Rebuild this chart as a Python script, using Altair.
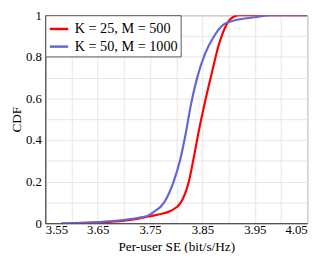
import altair as alt
import pandas as pd

series_names = ["K = 25, M = 500", "K = 50, M = 1000"]

red_x = [3.60, 3.65, 3.70, 3.728, 3.747, 3.766, 3.790, 3.809, 3.824, 3.833, 3.842, 3.855, 3.868, 3.880, 3.893, 3.905, 3.92, 3.95, 4.05]
red_y = [0.0, 0.004, 0.012, 0.022, 0.032, 0.042, 0.06, 0.10, 0.20, 0.31, 0.43, 0.585, 0.724, 0.847, 0.94, 0.985, 1.0, 1.0, 1.0]

blue_x = [3.58, 3.62, 3.654, 3.69, 3.728, 3.747, 3.756, 3.777, 3.795, 3.807, 3.818, 3.828, 3.840, 3.855, 3.871, 3.890, 3.914, 3.95, 3.98, 4.05]
blue_y = [0.0, 0.002, 0.006, 0.013, 0.026, 0.037, 0.052, 0.10, 0.20, 0.30, 0.43, 0.57, 0.70, 0.815, 0.894, 0.955, 0.977, 0.99, 1.0, 1.0]

x_ticks = [3.55, 3.60, 3.65, 3.70, 3.75, 3.80, 3.85, 3.90, 3.95, 4.00, 4.05]
y_ticks = [0, 0.1, 0.2, 0.3, 0.4, 0.5, 0.6, 0.7, 0.8, 0.9, 1.0]

rows = []
for i, (x, y) in enumerate(zip(red_x, red_y)):
    rows.append({"x": x, "y": y, "s": series_names[0], "o": i})
for i, (x, y) in enumerate(zip(blue_x, blue_y)):
    rows.append({"x": x, "y": y, "s": series_names[1], "o": i})
df = pd.DataFrame(rows)

font = "Liberation Serif"

chart = alt.Chart(df).mark_line(strokeWidth=2.2, interpolate="monotone", clip=True).encode(
    x=alt.X("x:Q", scale=alt.Scale(domain=[3.55, 4.05], nice=False, zero=False),
            axis=alt.Axis(values=x_ticks, title="Per-user SE (bit/s/Hz)",
                          labelExpr="round(datum.value*100) % 10 == 5 ? format(datum.value, '.2f') : ''",
                          ticks=False, labelPadding=1, titlePadding=3)),
    y=alt.Y("y:Q", scale=alt.Scale(domain=[0, 1], nice=False),
            axis=alt.Axis(values=y_ticks, title="CDF",
                          labelExpr="round(datum.value*10) % 2 == 0 ? (datum.value == 0 ? '0' : datum.value == 1 ? '1' : format(datum.value, '.1f')) : ''",
                          ticks=False, labelPadding=4, titlePadding=2)),
    color=alt.Color("s:N", sort=series_names,
                    scale=alt.Scale(domain=series_names, range=["#ff0000", "#6464d8"]),
                    legend=alt.Legend(title=None, orient="top-left", offset=0,
                                      symbolType="stroke", symbolStrokeWidth=2.5, symbolSize=350,
                                      labelFontSize=14.5, labelFont=font, labelColor="black",
                                      strokeColor="#555555", fillColor="white", padding=3,
                                      rowPadding=0, labelOffset=5)),
    order="o:Q",
).properties(
    width=267, height=212,
    padding={"left": 38, "top": 5, "right": 12, "bottom": 28},
    autosize=alt.AutoSizeParams(type="none"),
).configure_axis(
    labelFont=font, titleFont=font, labelFontSize=13, titleFontSize=13.5,
    titleFontWeight="normal", labelColor="black", titleColor="black",
    gridColor="#e6e6e6", gridWidth=1, domainColor="#333333",
).configure_view(stroke="#666666", strokeWidth=1)

chart.save("out.html", embed_options={"renderer": "svg", "actions": False})
